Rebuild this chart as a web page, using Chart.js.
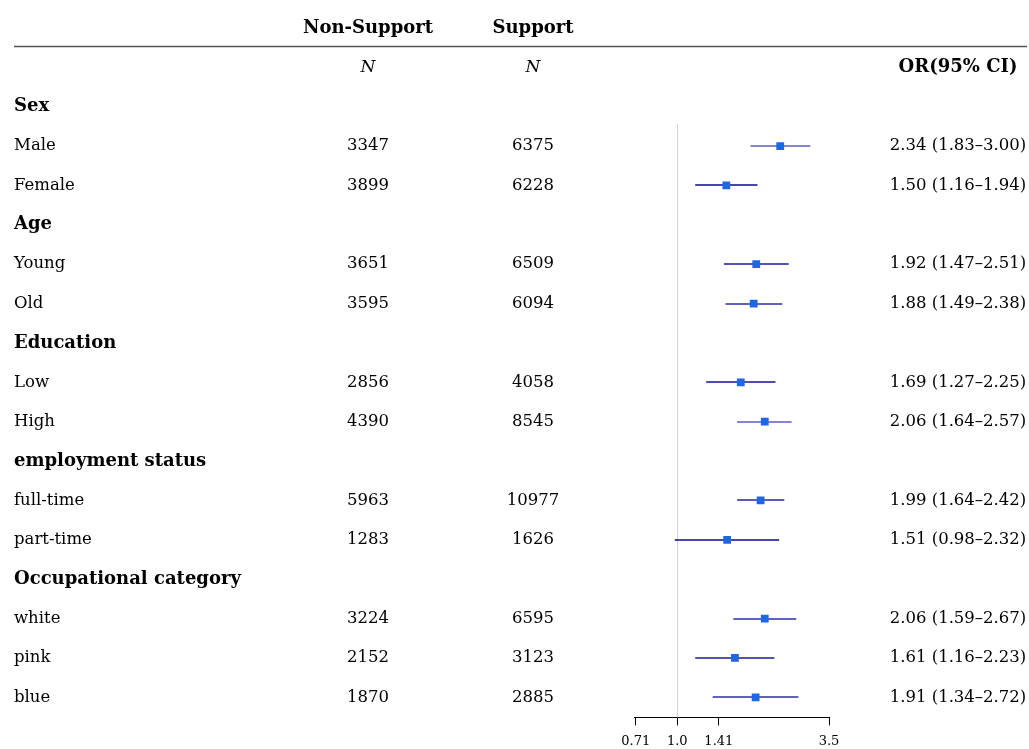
<!DOCTYPE html>
<html>
<head>
<meta charset="utf-8">
<script src="https://cdn.jsdelivr.net/npm/chart.js@4/dist/chart.umd.min.js"></script>
<style>
  html, body { margin: 0; background: #fff; }
</style>
</head>
<body>
<canvas id="forestChart" width="1029" height="749"></canvas>
<script>
// rows top to bottom, null = group heading row
const rowLabels = ['Sex', 'Male', 'Female', 'Age', 'Young', 'Old', 'Education', 'Low', 'High',
    'employment status', 'full-time', 'part-time', 'Occupational category', 'white', 'pink', 'blue'];
const nonSupportN = [null, 3347, 3899, null, 3651, 3595, null, 2856, 4390, null, 5963, 1283, null, 3224, 2152, 1870];
const supportN    = [null, 6375, 6228, null, 6509, 6094, null, 4058, 8545, null, 10977, 1626, null, 6595, 3123, 2885];
const oddsRatio   = [null, 2.34, 1.50, null, 1.92, 1.88, null, 1.69, 2.06, null, 1.99, 1.51, null, 2.06, 1.61, 1.91];
const ciLow       = [null, 1.83, 1.16, null, 1.47, 1.49, null, 1.27, 1.64, null, 1.64, 0.98, null, 1.59, 1.16, 1.34];
const ciHigh      = [null, 3.00, 1.94, null, 2.51, 2.38, null, 2.25, 2.57, null, 2.42, 2.32, null, 2.67, 2.23, 2.72];
const xTicks = [0.71, 1.0, 1.41, 3.5];
const xTickLabels = ['0.71', '1.0', '1.41', '3.5'];

const FONT = "'DejaVu Serif', 'Liberation Serif', serif";
const lineColor = ['', '#5c5cc0', '#0a0a8c', '', '#1a1a96', '#2e2ea2', '', '#12128f', '#5c5cc0', '', '#24249c', '#0a0a8c', '', '#2e2ea2', '#1a1a96', '#2e2ea2'];

const fmt = v => v.toFixed(2);

const forestPlugin = {
    id: 'forest',
    beforeDatasetsDraw(chart) {
        const { ctx, chartArea, scales: { x, y } } = chart;
        ctx.save();
        // reference line at OR = 1
        const x1 = Math.round(x.getPixelForValue(1)) + 0.5;
        ctx.strokeStyle = '#d3d3d3';
        ctx.lineWidth = 1;
        ctx.beginPath();
        ctx.moveTo(x1, chartArea.top);
        ctx.lineTo(x1, chartArea.bottom);
        ctx.stroke();
        // confidence intervals
        ctx.lineWidth = 1.6;
        rowLabels.forEach((lab, i) => {
            if (oddsRatio[i] == null) return;
            const py = Math.round(y.getPixelForValue(i));
            ctx.strokeStyle = lineColor[i];
            ctx.beginPath();
            ctx.moveTo(x.getPixelForValue(ciLow[i]), py);
            ctx.lineTo(x.getPixelForValue(ciHigh[i]), py);
            ctx.stroke();
        });
        ctx.restore();
    },
    afterDraw(chart) {
        const { ctx, scales: { y } } = chart;
        ctx.save();
        ctx.fillStyle = '#000';
        ctx.textBaseline = 'middle';

        // column headers
        const hy = y.getPixelForValue(-2);
        ctx.font = 'bold 18px ' + FONT;
        ctx.textAlign = 'center';
        ctx.fillText('Non-Support', 368, hy);
        ctx.fillText('Support', 533, hy);

        const ly = Math.round(y.getPixelForValue(-1.55)) + 0.5;
        ctx.strokeStyle = '#555';
        ctx.lineWidth = 1.6;
        ctx.beginPath();
        ctx.moveTo(14, ly);
        ctx.lineTo(1027, ly);
        ctx.stroke();

        const ny = y.getPixelForValue(-1);
        ctx.font = 'italic 17px ' + FONT;
        ctx.fillText('N', 368, ny);
        ctx.fillText('N', 533, ny);
        ctx.font = 'bold 18px ' + FONT;
        ctx.fillText('OR(95% CI)', 958, ny);

        rowLabels.forEach((lab, i) => {
            const py = y.getPixelForValue(i);
            ctx.textAlign = 'left';
            if (oddsRatio[i] == null) {
                ctx.font = 'bold 18px ' + FONT;
                ctx.fillText(lab, 14, py);
                return;
            }
            ctx.font = '16.5px ' + FONT;
            ctx.fillText(lab, 14, py);
            ctx.textAlign = 'center';
            ctx.fillText(String(nonSupportN[i]), 368, py);
            ctx.fillText(String(supportN[i]), 533, py);
            ctx.fillText(fmt(oddsRatio[i]) + ' (' + fmt(ciLow[i]) + '\u2013' + fmt(ciHigh[i]) + ')', 958, py);
        });
        ctx.restore();
    }
};

const points = [];
rowLabels.forEach((lab, i) => {
    if (oddsRatio[i] != null) points.push({ x: oddsRatio[i], y: i });
});

new Chart(document.getElementById('forestChart'), {
    type: 'scatter',
    data: {
        datasets: [{
            label: 'OR',
            data: points,
            pointStyle: 'rect',
            pointRadius: 5.5,
            pointHoverRadius: 5.5,
            backgroundColor: '#1f66e5',
            borderWidth: 0
        }]
    },
    options: {
        responsive: false,
        animation: false,
        layout: { padding: { left: 634, right: 200, top: 124, bottom: -8 } },
        plugins: { legend: { display: false }, tooltip: { enabled: false } },
        scales: {
            x: {
                type: 'logarithmic',
                min: 0.71,
                max: 3.5,
                afterBuildTicks: axis => { axis.ticks = xTicks.map(v => ({ value: v })); },
                ticks: {
                    autoSkip: false,
                    maxRotation: 0,
                    padding: 8,
                    color: '#000',
                    font: { family: FONT, size: 13 },
                    callback: (v, idx) => xTickLabels[idx]
                },
                grid: { drawOnChartArea: false, drawTicks: true, tickLength: 8, color: '#000' },
                border: { display: true, color: '#000', width: 1 }
            },
            y: {
                type: 'linear',
                reverse: true,
                min: 0.44,
                max: 15.51,
                display: false
            }
        }
    },
    plugins: [forestPlugin]
});
</script>
</body>
</html>
